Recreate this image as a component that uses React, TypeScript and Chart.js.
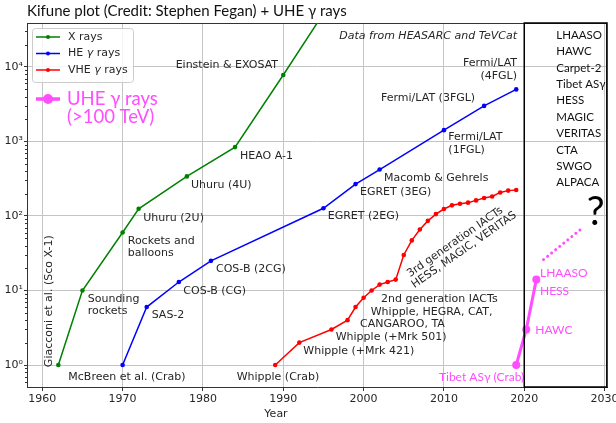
import { useEffect, useRef } from 'react';
import { Chart, registerables } from 'chart.js';

Chart.register(...registerables);

// ---- data ----
const xRayYears = [1962, 1965, 1970, 1972, 1978, 1984, 1990, 1999];
const xRayCounts = [1, 10, 60, 125, 340, 840, 7800, 240000];

const heYears = [1970, 1973, 1977, 1981, 1995, 1999, 2002, 2010, 2015, 2019];
const heCounts = [1, 6, 13, 25, 127, 268, 420, 1420, 3000, 5000];

const vheYears = [1989, 1992, 1996, 1998, 1999, 2000, 2001, 2002, 2003, 2004, 2005, 2006, 2007, 2008, 2009, 2010, 2011, 2012, 2013, 2014, 2015, 2016, 2017, 2018, 2019];
const vheCounts = [1, 2, 3, 4, 6, 8, 10, 12, 13, 14, 30, 47, 66, 86, 106, 124, 139, 146, 151, 162, 174, 183, 207, 219, 223];

const uheYears = [2019, 2020.25, 2021.5];
const uheCounts = [1, 3, 14];

const futureYears = [2022.4, 2027.3];
const futureCounts = [26, 70];

const xTicks = [1960, 1970, 1980, 1990, 2000, 2010, 2020, 2030];
const yTicks = [1, 10, 100, 1000, 10000];
const yTickLabels = ['10⁰', '10¹', '10²', '10³', '10⁴'];

const legendLabels = ['X rays', 'HE γ rays', 'VHE γ rays'];
const uheLegend = ['UHE γ rays', '(>100 TeV)'];

const futureExperiments = ['LHAASO', 'HAWC', 'Carpet-2', 'Tibet ASγ', 'HESS', 'MAGIC', 'VERITAS', 'CTA', 'SWGO', 'ALPACA'];

type Note = { text: string; x: number; y: number; align?: CanvasTextAlign; rot?: number };

// annotation anchors in data coordinates (year, count)
const notes: Note[] = [
  { text: 'Einstein & EXOSAT', x: 1989.35, y: 10740, align: 'right' },
  { text: 'HEAO A-1', x: 1984.62, y: 644 },
  { text: 'Uhuru (4U)', x: 1978.52, y: 262 },
  { text: 'Uhuru (2U)', x: 1972.58, y: 94 },
  { text: 'Rockets and', x: 1970.64, y: 46.6 },
  { text: 'balloons', x: 1970.64, y: 31.9 },
  { text: 'Giacconi et al. (Sco X-1)', x: 1960.88, y: 7.18, align: 'center', rot: -90 },
  { text: 'Sounding', x: 1965.66, y: 7.69 },
  { text: 'rockets', x: 1965.66, y: 5.24 },
  { text: 'McBreen et al. (Crab)', x: 1963.24, y: 0.69 },
  { text: 'SAS-2', x: 1973.62, y: 4.73 },
  { text: 'COS-B (CG)', x: 1977.56, y: 9.94 },
  { text: 'COS-B (2CG)', x: 1981.63, y: 19.4 },
  { text: 'EGRET (2EG)', x: 1995.53, y: 98.8 },
  { text: 'EGRET (3EG)', x: 1999.55, y: 207 },
  { text: 'Macomb & Gehrels', x: 2002.54, y: 324 },
  { text: 'Fermi/LAT', x: 2010.55, y: 1148 },
  { text: '(1FGL)', x: 2010.55, y: 760 },
  { text: 'Fermi/LAT (3FGL)', x: 2002.17, y: 3790 },
  { text: 'Fermi/LAT', x: 2019.1, y: 11320, align: 'right' },
  { text: '(4FGL)', x: 2019.1, y: 7480, align: 'right' },
  { text: 'Whipple (Crab)', x: 1984.2, y: 0.69 },
  { text: 'Whipple (+Mrk 421)', x: 1992.5, y: 1.523 },
  { text: 'Whipple (+Mrk 501)', x: 1996.53, y: 2.376 },
  { text: '2nd generation IACTs', x: 2002.17, y: 7.76 },
  { text: 'Whipple, HEGRA, CAT,', x: 2000.89, y: 5.19 },
  { text: 'CANGAROO, TA', x: 1999.55, y: 3.51 },
  { text: '3rd generation IACTs', x: 2011.38, y: 44.5, align: 'center', rot: -35 },
  { text: 'HESS, MAGIC, VERITAS', x: 2012.52, y: 35.0, align: 'center', rot: -35 },
];

const pinkNotes: Note[] = [
  { text: 'Tibet ASγ (Crab)', x: 2020.0, y: 0.69, align: 'right' },
  { text: 'HAWC', x: 2021.38, y: 2.98 },
  { text: 'LHAASO', x: 2021.96, y: 17.2 },
  { text: 'HESS', x: 2021.96, y: 9.94 },
];

const PINK = '#ff4dff';
const MPL = '"DejaVu Sans", sans-serif';
const CAL = 'Lato, "Open Sans", sans-serif';

const toXY = (xs: number[], ys: number[]) => xs.map((x, i) => ({ x, y: ys[i] }));

const overlayPlugin = {
  id: 'overlay',
  beforeDatasetsDraw(chart: any) {
    const { ctx, chartArea: a, scales } = chart;
    const y = scales.y;
    ctx.save();
    ctx.strokeStyle = '#333';
    ctx.lineWidth = 1;
    ctx.beginPath();
    ctx.moveTo(a.left, a.top + 0.5);
    ctx.lineTo(a.right - 0.5, a.top + 0.5);
    ctx.lineTo(a.right - 0.5, a.bottom);
    ctx.stroke();
    // minor log ticks
    ctx.beginPath();
    for (let k = -1; k <= 4; k++) {
      for (let m = 2; m <= 9; m++) {
        const v = m * Math.pow(10, k);
        if (v < y.min || v > y.max) continue;
        const py = Math.round(y.getPixelForValue(v)) + 0.5;
        ctx.moveTo(a.left - 2, py);
        ctx.lineTo(a.left, py);
      }
    }
    ctx.stroke();
    ctx.restore();
  },
  afterDatasetsDraw(chart: any) {
    const { ctx, chartArea: a, scales } = chart;
    const xs = scales.x;
    const ys = scales.y;
    ctx.save();
    ctx.textBaseline = 'middle';

    const drawNote = (n: Note, font: string, color: string) => {
      const px = xs.getPixelForValue(n.x);
      const py = ys.getPixelForValue(n.y);
      ctx.save();
      ctx.font = font;
      ctx.fillStyle = color;
      ctx.textAlign = n.align || 'left';
      ctx.translate(px, py);
      if (n.rot) ctx.rotate((n.rot * Math.PI) / 180);
      ctx.fillText(n.text, 0, 0);
      ctx.restore();
    };
    notes.forEach((n) => drawNote(n, `11px ${MPL}`, '#262626'));
    pinkNotes.forEach((n) => drawNote(n, `12px ${CAL}`, PINK));

    // data source note
    ctx.font = `italic 11px ${MPL}`;
    ctx.fillStyle = '#262626';
    ctx.textAlign = 'right';
    ctx.fillText('Data from HEASARC and TeVCat', xs.getPixelForValue(2019.1), a.top + 13);

    // future box
    const bx = xs.getPixelForValue(2020);
    ctx.strokeStyle = '#000';
    ctx.lineWidth = 1.5;
    ctx.strokeRect(bx, a.top, a.right - bx, a.bottom - a.top);
    ctx.save();
    ctx.beginPath();
    ctx.rect(bx, a.top, a.right - bx - 1, a.bottom - a.top);
    ctx.clip();
    ctx.font = `11.5px ${CAL}`;
    ctx.fillStyle = '#111';
    ctx.textAlign = 'left';
    futureExperiments.forEach((t, i) => {
      ctx.fillText(t, bx + 32, a.top + 12 + i * 16.4);
    });
    ctx.restore();
    ctx.font = `40px ${CAL}`;
    ctx.fillStyle = '#000';
    ctx.textAlign = 'center';
    ctx.textBaseline = 'alphabetic';
    ctx.fillText('?', xs.getPixelForValue(2028.9), ys.getPixelForValue(75));

    // legend
    const lx = a.left + 5;
    const ly = a.top + 5;
    ctx.beginPath();
    ctx.roundRect(lx + 0.5, ly + 0.5, 101, 54, 3);
    ctx.fillStyle = 'rgba(255,255,255,0.85)';
    ctx.fill();
    ctx.strokeStyle = '#cccccc';
    ctx.lineWidth = 1;
    ctx.stroke();
    const colors = ['#008000', '#0000ff', '#ff0000'];
    ctx.textBaseline = 'middle';
    ctx.textAlign = 'left';
    legendLabels.forEach((lab, i) => {
      const yy = ly + 9 + i * 16.5;
      ctx.strokeStyle = colors[i];
      ctx.lineWidth = 1.5;
      ctx.beginPath();
      ctx.moveTo(lx + 4, yy);
      ctx.lineTo(lx + 28, yy);
      ctx.stroke();
      ctx.fillStyle = colors[i];
      ctx.beginPath();
      ctx.arc(lx + 16, yy, 2, 0, Math.PI * 2);
      ctx.fill();
      ctx.fillStyle = '#262626';
      let tx = lx + 36;
      const parts = lab.split('γ');
      ctx.font = `11px ${MPL}`;
      ctx.fillText(parts[0], tx, yy);
      if (parts.length > 1) {
        tx += ctx.measureText(parts[0]).width;
        ctx.font = `italic 11px ${MPL}`;
        ctx.fillText('γ', tx, yy);
        tx += ctx.measureText('γ').width;
        ctx.font = `11px ${MPL}`;
        ctx.fillText(parts[1], tx, yy);
      }
    });
    // UHE legend entry
    const uy = a.top + 76;
    ctx.strokeStyle = PINK;
    ctx.lineWidth = 3.5;
    ctx.beginPath();
    ctx.moveTo(lx + 4, uy);
    ctx.lineTo(lx + 28, uy);
    ctx.stroke();
    ctx.fillStyle = PINK;
    ctx.beginPath();
    ctx.arc(lx + 16, uy, 5, 0, Math.PI * 2);
    ctx.fill();
    ctx.font = `18.5px ${CAL}`;
    ctx.fillText(uheLegend[0], lx + 35, uy);
    ctx.fillText(uheLegend[1], lx + 35, uy + 18);
    ctx.restore();
  },
  afterDraw(chart: any) {
    const { ctx } = chart;
    ctx.save();
    ctx.font = `15px ${CAL}`;
    ctx.fillStyle = '#111';
    ctx.textAlign = 'left';
    ctx.textBaseline = 'middle';
    ctx.fillText('Kifune plot (Credit: Stephen Fegan) + UHE γ rays', 27, 11.5);
    ctx.font = `11px ${MPL}`;
    ctx.fillStyle = '#262626';
    ctx.textAlign = 'center';
    ctx.fillText('Year', 276, 414);
    ctx.restore();
  },
};

export default function App() {
  const ref = useRef<HTMLCanvasElement | null>(null);
  useEffect(() => {
    document.body.style.margin = '0';
    if (!ref.current) return;
    const chart = new Chart(ref.current, {
      type: 'line',
      data: {
        datasets: [
          { label: 'X rays', data: toXY(xRayYears, xRayCounts), borderColor: '#008000', backgroundColor: '#008000', borderWidth: 1.5, pointRadius: 2.3, pointBorderWidth: 0 },
          { label: 'HE γ rays', data: toXY(heYears, heCounts), borderColor: '#0000ff', backgroundColor: '#0000ff', borderWidth: 1.5, pointRadius: 2.3, pointBorderWidth: 0 },
          { label: 'VHE γ rays', data: toXY(vheYears, vheCounts), borderColor: '#ff0000', backgroundColor: '#ff0000', borderWidth: 1.5, pointRadius: 2.3, pointBorderWidth: 0 },
          { label: 'UHE γ rays', data: toXY(uheYears, uheCounts), borderColor: PINK, backgroundColor: PINK, borderWidth: 3, pointRadius: 4, pointBorderWidth: 0 },
          { label: 'future', data: toXY(futureYears, futureCounts), borderColor: PINK, borderWidth: 3, pointRadius: 0, borderDash: [0.01, 5.2], borderCapStyle: 'round' },
        ],
      },
      options: {
        animation: false,
        responsive: true,
        maintainAspectRatio: false,
        layout: { padding: { top: 23, right: 9, left: 0, bottom: 0 } },
        plugins: { legend: { display: false }, tooltip: { enabled: false }, title: { display: false } },
        scales: {
          x: {
            type: 'linear',
            min: 1958.1,
            max: 2030.3,
            afterFit: (s: any) => { s.height = 36; s.paddingLeft = 0; s.paddingRight = 0; },
            afterBuildTicks: (s: any) => { s.ticks = xTicks.map((v) => ({ value: v })); },
            ticks: { autoSkip: false, maxRotation: 0, padding: 2, color: '#262626', font: { family: MPL, size: 11 }, callback: (v: any) => String(v) },
            grid: { color: '#c4c4c4', lineWidth: 1, tickLength: 4, tickColor: '#333' },
            border: { color: '#333', width: 1 },
          },
          y: {
            type: 'logarithmic',
            min: 0.507,
            max: 38900,
            afterFit: (s: any) => { s.width = 27; s.paddingTop = 0; s.paddingBottom = 0; },
            afterBuildTicks: (s: any) => { s.ticks = yTicks.map((v) => ({ value: v })); },
            ticks: {
              padding: 1,
              color: '#262626',
              font: { family: MPL, size: 11 },
              callback: (v: any) => { const i = yTicks.indexOf(Number(v)); return i >= 0 ? yTickLabels[i] : ''; },
            },
            grid: { color: '#c4c4c4', lineWidth: 1, tickLength: 3, tickColor: '#333' },
            border: { color: '#333', width: 1 },
          },
        },
      },
      plugins: [overlayPlugin],
    } as any);
    return () => chart.destroy();
  }, []);
  return (
    <div style={{ width: 616, height: 423, position: 'relative', background: '#fff' }}>
      <canvas ref={ref} />
    </div>
  );
}
